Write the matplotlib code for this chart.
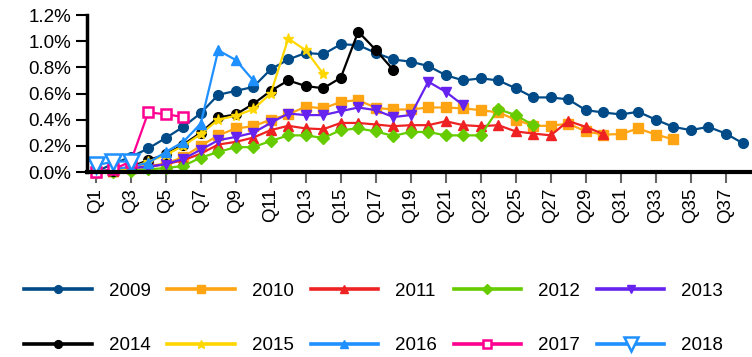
import matplotlib.pyplot as plt
from matplotlib.ticker import FuncFormatter
import numpy as np

plt.rcParams['font.family'] = ['Liberation Sans', 'DejaVu Sans']

years = ['2009', '2010', '2011', '2012', '2013',
         '2014', '2015', '2016', '2017', '2018']

# cumulative values per quarter, in percent
v2009 = [0.0, 0.064, 0.115, 0.18, 0.26, 0.345, 0.45, 0.59, 0.62, 0.65,
         0.785, 0.86, 0.91, 0.90, 0.976, 0.97, 0.91, 0.86, 0.843, 0.81,
         0.74, 0.70, 0.716, 0.70, 0.64, 0.57, 0.57, 0.555, 0.473, 0.455,
         0.44, 0.46, 0.40, 0.345, 0.32, 0.345, 0.294, 0.218]
v2010 = [0.0, 0.01, 0.04, 0.046, 0.064, 0.115, 0.20, 0.28, 0.333, 0.35,
         0.40, 0.44, 0.50, 0.486, 0.536, 0.55, 0.49, 0.478, 0.478, 0.493,
         0.493, 0.486, 0.473, 0.455, 0.40, 0.353, 0.353, 0.37, 0.31, 0.286,
         0.29, 0.333, 0.286, 0.25]
v2011 = [0.0, 0.01, 0.03, 0.04, 0.06, 0.09, 0.14, 0.21, 0.23, 0.263,
         0.32, 0.353, 0.333, 0.327, 0.375, 0.375, 0.363, 0.35, 0.358, 0.358,
         0.388, 0.358, 0.35, 0.358, 0.31, 0.294, 0.28, 0.39, 0.345, 0.29]
v2012 = [0.0, 0.0, 0.01, 0.02, 0.03, 0.046, 0.11, 0.153, 0.19, 0.19,
         0.237, 0.28, 0.28, 0.26, 0.32, 0.333, 0.31, 0.276, 0.306, 0.306,
         0.28, 0.28, 0.28, 0.48, 0.435, 0.358]
v2013 = [0.0, 0.01, 0.03, 0.04, 0.06, 0.10, 0.17, 0.243, 0.268, 0.30,
         0.375, 0.447, 0.435, 0.435, 0.465, 0.493, 0.473, 0.42, 0.435, 0.69,
         0.613, 0.51]
v2014 = [0.0, 0.01, 0.04, 0.09, 0.135, 0.21, 0.30, 0.417, 0.44, 0.52,
         0.62, 0.70, 0.657, 0.64, 0.72, 1.073, 0.933, 0.78]
v2015 = [0.0, 0.01, 0.03, 0.08, 0.13, 0.20, 0.29, 0.40, 0.43, 0.48,
         0.60, 1.02, 0.93, 0.75]
v2016 = [0.0, 0.02, 0.04, 0.07, 0.153, 0.23, 0.37, 0.93, 0.856, 0.70]
v2017 = [0.0, 0.02, 0.08, 0.455, 0.442, 0.42]
v2018 = [0.05, 0.08, 0.08]

series = [v2009, v2010, v2011, v2012, v2013, v2014, v2015, v2016, v2017, v2018]

colors = ['#004B87', '#FFA514', '#EE2222', '#66CC00', '#6622EE',
          '#000000', '#FFD700', '#1E90FF', '#FF0090', '#1E90FF']
markers = ['o', 's', '^', 'D', 'v', 'o', '*', '^', 's', 'v']
msizes = [7, 7, 7, 6, 7, 7, 8, 7, 7, 12]

fig = plt.figure(figsize=(7.52, 3.57), dpi=100)
ax = fig.add_axes([87 / 752, 1 - 172 / 357, 1 - 87 / 752, 157 / 357])

for name, vals, c, m, ms in zip(years, series, colors, markers, msizes):
    q = np.arange(1, len(vals) + 1)
    hollow = name in ('2017', '2018')
    ax.plot(q, vals, color=c, marker=m, markersize=ms, linewidth=1.6,
            markerfacecolor='white' if hollow else c,
            markeredgecolor=c, markeredgewidth=1.8 if hollow else 1.0,
            label=name, clip_on=False)

ax.set_xlim(0.5, 38.5)
ax.set_ylim(0, 1.2)
ax.set_yticks(np.arange(0, 1.21, 0.2))
ax.yaxis.set_major_formatter(FuncFormatter(lambda v, p: '%.1f%%' % v))
qt = np.arange(1, 39, 2)
ax.set_xticks(qt)
ax.set_xticklabels(['Q%d' % i for i in qt], rotation=90)

for s in ('top', 'right'):
    ax.spines[s].set_visible(False)
ax.spines['left'].set_linewidth(2.5)
ax.spines['bottom'].set_linewidth(3)
ax.tick_params(axis='y', length=8, width=1.5, labelsize=13.5, colors='black')
ax.tick_params(axis='x', length=8, width=1.5, color='#666666', labelsize=13.5)

# legend filled row by row: 2009..2013 on top, 2014..2018 below
handles, labels = ax.get_legend_handles_labels()
order = [0, 5, 1, 6, 2, 7, 3, 8, 4, 9]
leg = fig.legend([handles[i] for i in order], [labels[i] for i in order],
                 loc='center', bbox_to_anchor=(0.497, 0.108), ncol=5,
                 frameon=False, fontsize=13.5, handlelength=3.6,
                 handletextpad=0.9, columnspacing=0.9, labelspacing=2.0,
                 markerscale=0.8)
for h in leg.legend_handles:
    h.set_linewidth(2.6)

fig.savefig('out.png', dpi=100)
